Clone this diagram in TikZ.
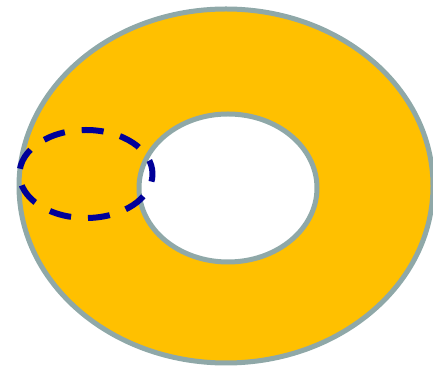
\documentclass[tikz,border=0pt]{standalone}
\definecolor{ringfill}{RGB}{255,192,0}
\definecolor{ringline}{RGB}{143,168,168}
\definecolor{navy}{RGB}{0,0,153}
\begin{document}
\begin{tikzpicture}[x=1pt,y=1pt,
  ringstroke/.style={draw=ringline,line width=5pt},
  dashring/.style={draw=navy,line width=6pt,dash pattern=on 22pt off 17pt}]
\useasboundingbox (0,0) rectangle (433,371);
\clip (0,0) rectangle (433,371);
\fill[ringfill,even odd rule] (226,185) ellipse [x radius=207,y radius=177] (228,183) ellipse [x radius=89,y radius=74];
\draw[ringstroke] (226,185) ellipse [x radius=207,y radius=177];
\draw[ringstroke,fill=white] (228,183) ellipse [x radius=89,y radius=74];
\draw[dashring,dash phase=8pt] (86,197) ellipse [x radius=66.5,y radius=44];
\end{tikzpicture}
\end{document}
